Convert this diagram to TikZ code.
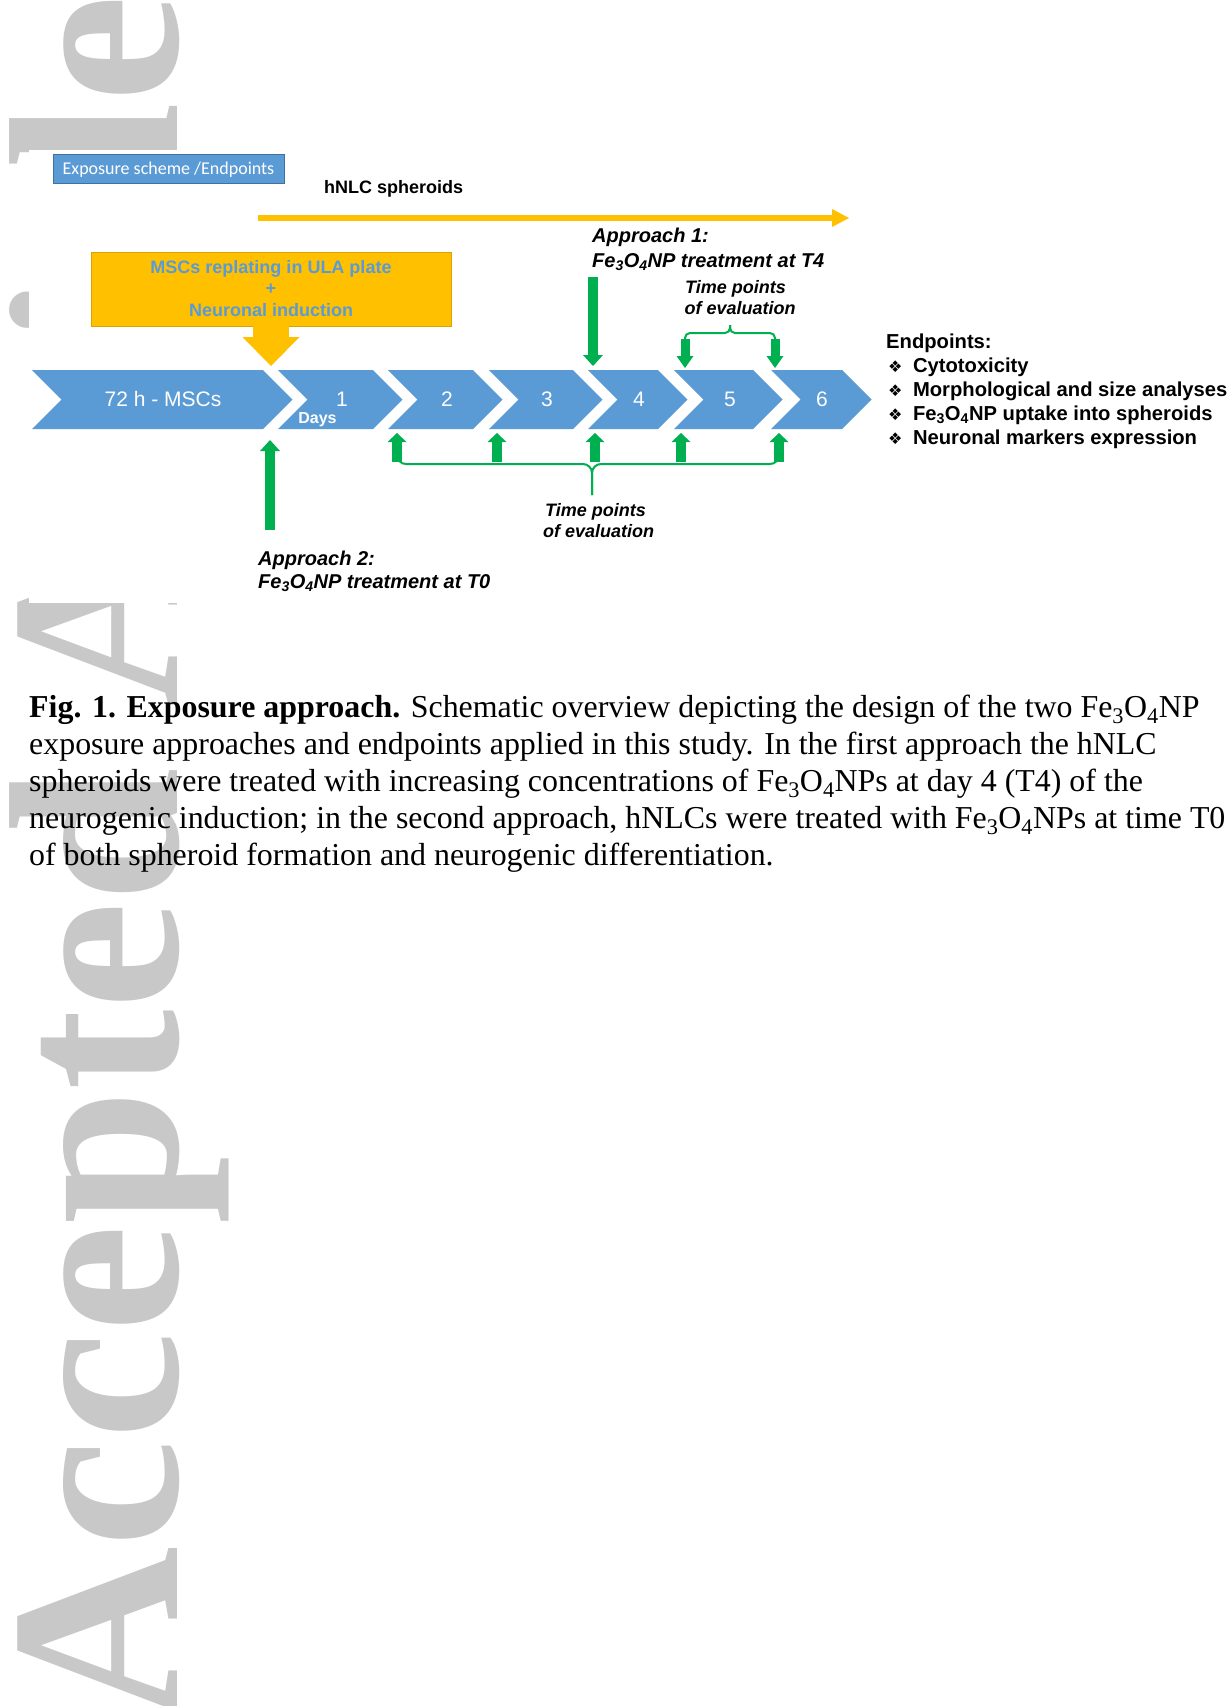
\documentclass[tikz,border=0pt]{standalone}
\usepackage{fontspec}
\setmainfont{Liberation Serif}
\newfontfamily\arial{Liberation Sans}
\newfontfamily\calibri{Carlito}
\newfontfamily\symfont{DejaVu Sans}
\usetikzlibrary{arrows.meta}

\definecolor{chevblue}{HTML}{5B9BD5}
\definecolor{boxedge}{HTML}{41719C}
\definecolor{gold}{HTML}{FFC000}
\definecolor{goldedge}{HTML}{D9A400}
\definecolor{fgreen}{HTML}{00B050}
\definecolor{wmgray}{RGB}{200,200,200}

\newcommand{\fs}[1]{\fontsize{#1}{#1}\selectfont}
\newcommand{\feo}{Fe\textsubscript{3}O\textsubscript{4}}
\newcommand{\bul}{{\symfont\fs{16}❖}\hspace{10.5pt}}

\begin{document}
\begin{tikzpicture}[x=1pt,y=-1pt,
  wmark/.style={rotate=90,anchor=base west,inner sep=0pt,text=wmgray,font=\bfseries\fs{242}},
  chev/.style={fill=chevblue},
  chevtxt/.style={anchor=base,inner sep=0pt,text=white,font=\arial\fs{21}},
  daystxt/.style={anchor=base,inner sep=0pt,text=white,font=\arial\bfseries\fs{16}},
  expbox/.style={fill=chevblue,draw=boxedge,line width=0.8pt,minimum width=231pt,minimum height=29pt,
    inner sep=0pt,text height=14pt,text depth=3pt,text=white,font=\calibri\fs{18}},
  replbox/.style={fill=gold,draw=goldedge,line width=0.8pt,minimum width=360pt,minimum height=74pt},
  repltxt/.style={anchor=base,inner sep=0pt,text=chevblue,font=\arial\bfseries\fs{18}},
  sanstxt/.style={anchor=base west,inner sep=0pt,font=\arial\bfseries\fs{#1}},
  aptxt/.style={anchor=base west,inner sep=0pt,font=\arial\bfseries\itshape\fs{20}},
  evtxt/.style={anchor=base west,inner sep=0pt,font=\arial\bfseries\itshape\fs{18}},
  captxt/.style={anchor=base west,inner sep=0pt,font=\fs{31.9}},
  goldline/.style={draw=gold,line width=6pt,-{Triangle[length=17pt,width=18pt,line width=0pt]}},
  goldblk/.style={draw=gold,line width=36pt,-{Triangle[length=29pt,width=57pt,line width=0pt]}},
  gbig/.style={draw=fgreen,line width=10.5pt,-{Triangle[length=11pt,width=20pt,line width=0pt]}},
  gsmall/.style={draw=fgreen,line width=10pt,-{Triangle[length=9pt,width=19pt,line width=0pt]}},
  gtop/.style={draw=fgreen,line width=9pt,-{Triangle[length=12pt,width=17pt,line width=0pt]}},
  brace/.style={draw=fgreen,line width=2pt}]

  \useasboundingbox (0,0) rectangle (1229,1706);
  \fill[white] (0,0) rectangle (1229,1706);

  \node[wmark] (wm) at (177,1722) {Accepted Article};
  \fill[white] (29,150) rectangle (1229,603);

  \node[expbox] (exp) at (168.5,168.5) {Exposure scheme /Endpoints};
  \node[sanstxt=18] (hnlc) at (324,193.5) {hNLC spheroids};
  \coordinate (hs) at (258,218);
  \coordinate (he) at (849,218);
  \path (hs) edge[goldline] (he);

  \node[replbox] (repl) at (271,289) {};
  \node[repltxt] (repl1) at (271,273.5) {MSCs replating in ULA plate};
  \node[repltxt] (repl2) at (271,294.5) {+};
  \node[repltxt] (repl3) at (271,316.5) {Neuronal induction};
  \coordinate (t0) at (271,366);
  \path (repl.south) edge[goldblk] (t0);

  \foreach \xl/\xr/\xc/\lab [count=\i from 0] in {32/263/163/72 h - MSCs, 278/373/342/1, 388/473/447/2,
      489/573/547/3, 588/658/639/4, 674/753/730/5, 771/842/822/6}{
    \fill[chev] (\xl,370) -- (\xr,370) -- ++(29.5,29.5) -- (\xr,429) -- (\xl,429) -- ++(29.5,-29.5) -- cycle;
    \node[chevtxt] (day\i) at (\xc,406.5) {\lab};
  }
  \node[daystxt] (days) at (317.5,423.5) {Days};

  \draw[brace,rounded corners=9pt] (397,452) -- (397,464) -- (592,464) -- (592,495);
  \draw[brace,rounded corners=9pt] (779,452) -- (779,464) -- (592,464) -- (592,495);
  \draw[brace,rounded corners=5pt] (685,345) -- (685,333) -- (730,333) -- (730,325);
  \draw[brace,rounded corners=5pt] (775,345) -- (775,333) -- (730,333) -- (730,325);

  \foreach \x [count=\i] in {397,497,595,681,779}{
    \coordinate (lo\i) at (\x,462);
    \coordinate (up\i) at (\x,433);
    \path (lo\i) edge[gsmall] (up\i);
  }
  \foreach \x [count=\i] in {685,775}{
    \coordinate (tt\i) at (\x,339);
    \coordinate (tb\i) at (\x,368);
    \path (tt\i) edge[gtop] (tb\i);
  }
  \coordinate (a1s) at (593,277);
  \coordinate (a1e) at (593,366);
  \coordinate (a2s) at (270,530);
  \coordinate (a2e) at (270,440);
  \path (a1s) edge[gbig] (a1e)
        (a2s) edge[gbig] (a2e);

  \node[aptxt] (ap1a) at (592,242) {Approach 1:};
  \node[aptxt] (ap1b) at (592,267) {\feo NP treatment at T4};
  \node[aptxt] (ap2a) at (258,565) {Approach 2:};
  \node[aptxt] (ap2b) at (258,588) {\feo NP treatment at T0};

  \node[evtxt] (ev1a) at (685,293) {Time points};
  \node[evtxt] (ev1b) at (684.5,314.5) {of evaluation};
  \node[evtxt] (ev2a) at (545,516.5) {Time points};
  \node[evtxt] (ev2b) at (543,537.5) {of evaluation};

  \node[sanstxt=20.2] (ep0) at (886,348) {Endpoints:};
  \foreach \itm [count=\i] in {Cytotoxicity, Morphological and size analyses,
      {\feo NP uptake into spheroids}, Neuronal markers expression}
    \node[sanstxt=20.2] (ep\i) at (888,{348+24*\i}) {\bul\itm};

  \node[captxt] (cap1) at (29,717) {\textbf{Fig. 1. Exposure approach.} Schematic overview depicting the design of the two \feo NP};
  \node[captxt] (cap2) at (29,754) {exposure approaches and endpoints applied in this study. In the first approach the hNLC};
  \node[captxt] (cap3) at (29,791) {spheroids were treated with increasing concentrations of \feo NPs at day 4 (T4) of the};
  \node[captxt] (cap4) at (29,828) {neurogenic induction; in the second approach, hNLCs were treated with \feo NPs at time T0};
  \node[captxt] (cap5) at (29,865) {of both spheroid formation and neurogenic differentiation.};
\end{tikzpicture}
\end{document}
